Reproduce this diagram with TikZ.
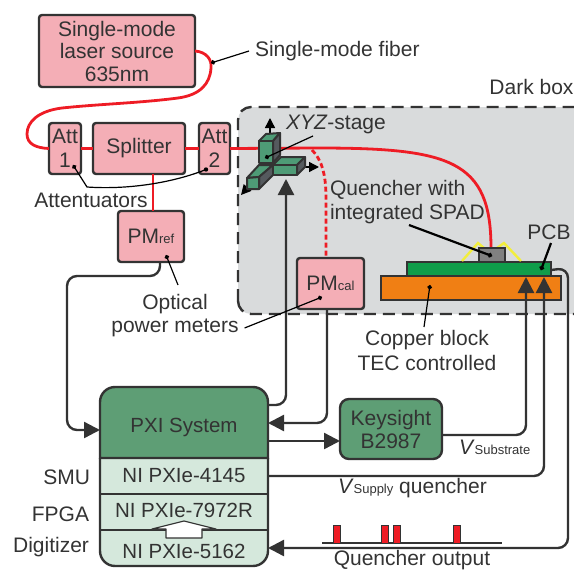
\documentclass[tikz,border=0pt]{standalone}
\usepackage{fontspec}
\setmainfont{Liberation Sans}
\usetikzlibrary{arrows.meta,calc}
\definecolor{ink}{HTML}{333333}
\definecolor{pinkfill}{HTML}{F4AEB6}
\definecolor{pxigreen}{HTML}{5E9E75}
\definecolor{palegreen}{HTML}{D5E8DC}
\definecolor{darkarea}{HTML}{D9DBDC}
\definecolor{copper}{HTML}{F07F14}
\definecolor{pcbgreen}{HTML}{0F9D4A}
\definecolor{fibre}{HTML}{EE1C25}
\definecolor{chipgrey}{HTML}{808080}
\definecolor{bondwire}{HTML}{F2EE3C}
\definecolor{stagegreen}{HTML}{4E9B76}
\definecolor{stageside}{HTML}{555A5E}
\newcommand{\lbl}{\fontsize{21}{24}\selectfont}
\newcommand{\lblb}{\fontsize{20.5}{24}\selectfont}
\newcommand{\sbs}[1]{{\fontsize{13}{13}\selectfont #1}}
\tikzset{
  x=1pt,y=-1pt,
  every node/.style={text=ink,font=\lbl,inner sep=0pt,outer sep=0pt},
  boxed/.style={draw=ink,line width=2.4pt,rounded corners=#1,align=center},
  boxed/.default=3,
  pinkbox/.style={boxed,fill=pinkfill},
  greenbox/.style={boxed=9,fill=pxigreen},
  plain/.style={align=center},
  wire/.style={draw=ink,line width=2.4pt,rounded corners=10pt},
  bigtip/.style={-{Triangle[length=16pt,width=16pt]}},
  smalltip/.style={-{Triangle[length=10pt,width=10pt]}},
  lead/.style={draw=black,line width=1.2pt},
  dotstart/.style={{Circle[length=4.5pt]}-},
  fibreline/.style={draw=fibre,line width=2.8pt},
  face/.style={draw=ink,line width=2pt,line join=round},
}
\begin{document}
\begin{tikzpicture}
\clip (0,0) rectangle (574,570);
\useasboundingbox (0,0) rectangle (574,570);
% dark box
\path[fill=darkarea,rounded corners=13pt] (238,107) rectangle (590,314);
\draw[draw=ink,line width=2.4pt,dash pattern=on 12pt off 7pt,rounded corners=13pt] (238,314) -- (238,107) -- (590,107) -- (590,314) -- cycle;
\node[anchor=east] (darklabel) at (573.5,87) {Dark box};

% boxes
\node[pinkbox=9,minimum width=156,minimum height=72] (laser) at (117,51) {Single-mode\\[-1.5pt]laser source\\[-1.5pt]635nm};
\node[pinkbox,minimum width=32,minimum height=51] (att1) at (65,148.5) {Att\\1};
\node[pinkbox,minimum width=92,minimum height=51] (split) at (139,148.5) {Splitter};
\node[pinkbox,minimum width=31,minimum height=51] (att2) at (214.5,148.5) {Att\\2};
\node[pinkbox,minimum width=66,minimum height=51] (pmref) at (151,236.5) {PM\sbs{ref}};
\node[pinkbox,minimum width=67,minimum height=51] (pmcal) at (330.5,283.5) {PM\sbs{cal}};
\node[greenbox,minimum width=102,minimum height=60] (key) at (391,429) {Keysight\\[-1pt]B2987};

% fibres
\coordinate (fb) at (317,148);
\coordinate (chiptop) at (491,248);
\draw[fibreline] (laser.east) .. controls (207,52) and (212,60) .. (211,68) .. controls (210,84) and (200,95) .. (178,98) .. controls (140,103) and (100,104) .. (62,108) .. controls (38,111) and (27,122) .. (27,134) .. controls (27,144) and (36,148) .. (att1.west);
\draw[fibreline] (att1.east) -- (split.west);
\draw[fibreline] (split.east) -- (att2.west);
\draw[fibreline] ([xshift=14pt]split.south) -- ([xshift=2pt]pmref.north);
\draw[fibreline] (att2.east) -- (fb) .. controls (450,148) and (491,160) .. (chiptop);
\draw[fibreline,dash pattern=on 5pt off 3pt] (312,150) .. controls (322,160) and (326,175) .. (326,198) -- (326,258);

% device stack
\node[boxed=0,fill=copper,minimum width=180,minimum height=24] (copperblock) at (471,288) {};
\node[boxed=0,fill=pcbgreen,minimum width=144,minimum height=14] (pcb) at (479,269) {};
\draw[bondwire,line width=2.4pt] (462,261) -- (478,243) -- (484,248);
\draw[bondwire,line width=2.4pt] (497,248) -- (504,243) -- (521,261);
\node[boxed=0,fill=chipgrey,minimum width=26,minimum height=14] (chip) at (492,255) {};

% stage
\coordinate (stageup) at (270,137);
\coordinate (stageuptip) at (270,118);
\coordinate (stageright) at (298,167);
\coordinate (stagerighttip) at (319,167);
\coordinate (stageleft) at (255,179);
\coordinate (stagelefttip) at (241,195);
\draw[draw=black,line width=1.4pt,smalltip] (stageup) -- (stageuptip);
\draw[draw=black,line width=1.4pt,smalltip] (stageright) -- (stagerighttip);
\draw[draw=black,line width=1.4pt,smalltip] (stageleft) -- (stagelefttip);
% vertical block
\filldraw[face,fill=stagegreen] (259,141) -- (266,134) -- (280,133) -- (273,141) -- cycle;
\filldraw[face,fill=stageside] (273,141) -- (280,133) -- (280,155) -- (273,163) -- cycle;
\filldraw[face,fill=stagegreen] (259,141) rectangle (273,163);
% left diagonal block
\filldraw[face,fill=stagegreen] (247,178) -- (259,165) -- (273,165) -- (259,177) -- cycle;
\filldraw[face,fill=stageside] (259,177) -- (273,165) -- (273,175) -- (259,189) -- cycle;
\filldraw[face,fill=stagegreen] (247,178) -- (259,177) -- (259,189) -- (247,189) -- cycle;
% right block
\filldraw[face,fill=stagegreen] (273,165) -- (281,157) -- (305,157) -- (297,165) -- cycle;
\filldraw[face,fill=stageside] (297,165) -- (305,157) -- (305,167) -- (297,175) -- cycle;
\filldraw[face,fill=stagegreen] (273,165) rectangle (297,175);
\coordinate (stagebase) at (286,179);

% PXI stack
\path[fill=palegreen,rounded corners=15pt] (100,387) rectangle (268,566);
\filldraw[draw=ink,line width=2.4pt,fill=pxigreen] (100,458) {[rounded corners=15pt] -- (100,387) -- (268,387)} -- (268,458) -- cycle;
\node[minimum width=168,minimum height=71] (pxi) at (184,422.5) {};
\node[font=\lblb] (pxitext) at (184,427) {PXI System};
\node[font=\lblb,minimum width=168,minimum height=36] (smu) at (184,476) {NI PXIe-4145};
\node[font=\lblb,minimum width=168,minimum height=36] (fpga) at (184,510) {NI PXIe-7972R};
\node[minimum width=168,minimum height=36] (digi) at (184,550) {};
\node[font=\lblb] (digitext) at (184,551) {NI PXIe-5162};
\draw[ink,line width=2.4pt] (100,494) -- (268,494);
\draw[ink,line width=2.4pt] (100,530) -- (268,530);
\draw[ink,line width=2.4pt,rounded corners=15pt] (100,458) -- (100,566) -- (268,566) -- (268,458);
\filldraw[draw=ink,line width=1.2pt,fill=white,line join=round] (166,538) -- (166,529) -- (152,529) -- (184,521) -- (216,529) -- (202,529) -- (202,538) -- cycle;
\node[anchor=east] (smulabel) at (90,477) {SMU};
\node[anchor=east] (fpgalabel) at (89,514) {FPGA};
\node[anchor=east] (digilabel) at (89,547) {Digitizer};

% wires
\draw[wire,bigtip] ([xshift=9pt]pmref.south) -- (160,276) -- (67,276) -- (67,430) -- ([yshift=-7.5pt]pxi.west);
\draw[wire,bigtip] ([yshift=17.5pt]pxi.east) -- (286,405) -- (stagebase);
\draw[wire,bigtip] (pmcal.south-|327,309) -- (327,423) -- (pxi.east|-0,423);
\draw[wire,bigtip] (pxi.east|-0,441) -- (key.west|-0,441);
\draw[wire,bigtip] (key.east|-0,435) -- (526,435) -- (526,277);
\draw[wire,bigtip] (smu.east) -- (544,476) -- (544,277);
\draw[wire,bigtip] ([yshift=-1pt]pcb.east) -- (568,268) -- (568,548) -- (268,548);

% pulses
\coordinate (baseL) at (322,543);
\coordinate (baseR) at (502,543);
\draw[ink,line width=1.4pt] (baseL) -- (baseR);
\foreach \px in {333,381,393,453}{
  \filldraw[draw=ink,line width=.5pt,fill=fibre] (\px,525) rectangle ++(7,18);
}

% leaders
\coordinate (leadfibre) at (211,63);
\node[anchor=west] (fibrelabel) at (255,51) {Single-mode fiber};
\draw[lead,dotstart] (leadfibre) -- ([xshift=-6pt]fibrelabel.west);
\node (attlabel) at (91,200) {Attentuators};
\draw[lead,dotstart] (73,165) -- (87,187) .. controls (130,190) and (175,182) .. (206,169.5);
\fill[black] (206,169.5) circle (2.2pt);
\coordinate (leadpmref) at (166,255);
\coordinate (leadpmrefend) at (178,285);
\draw[lead,dotstart] (leadpmref) -- (leadpmrefend);
\node[plain] (optlabel) at (175,304) {Optical};
\node[plain] (powlabel) at (175,328) {power meters};
\draw[lead,dotstart] (322,297) -- ([xshift=6pt]powlabel.east);
\node[anchor=west] (xyz) at (286,124) {\textit{XYZ}-stage};
\draw[lead,dotstart] (265,158) -- (313,136);
\node[align=left,anchor=west] (qlabel) at (330,190) {Quencher with};
\node[align=left,anchor=west] (qlabelb) at (330,214) {integrated SPAD};
\coordinate (chipdot) at (492,256);
\coordinate (qleader) at (409,225);
\draw[draw=black,line width=2.2pt,dotstart] (chipdot) -- (qleader);
\node (pcblabel) at (549,232) {PCB};
\draw[draw=black,line width=2.2pt,dotstart] (541,270) -- (551,243);
\node[plain] (cblabel) at (427,340) {Copper block};
\node[plain] (teclabel) at (427,363) {TEC controlled};
\draw[lead,dotstart] (430,285) -- (424,327);
\node[anchor=west] (vsub) at (459,447) {\textit{V}\sbs{Substrate}};
\node[anchor=west] (vsup) at (338,488) {\textit{V}\sbs{Supply} quencher};
\node (qout) at (412,560) {Quencher output};
\end{tikzpicture}
\end{document}
